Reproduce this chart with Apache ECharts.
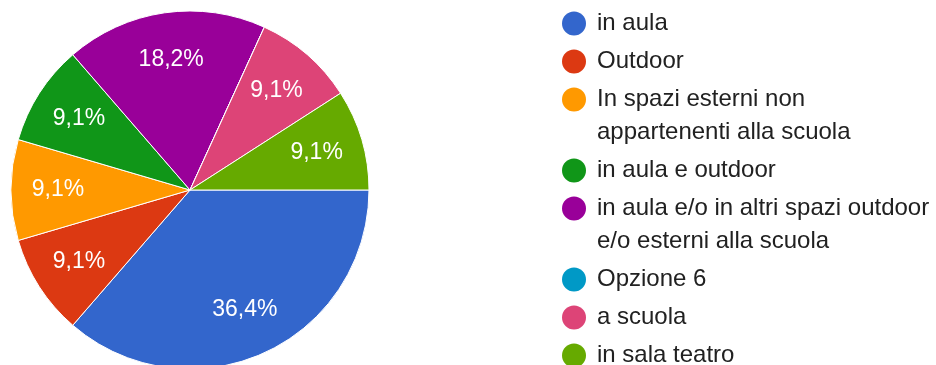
<!DOCTYPE html>
<html>
<head>
<meta charset="utf-8">
<script src="https://cdn.jsdelivr.net/npm/echarts@6/dist/echarts.min.js"></script>
<style>
  html, body { margin: 0; padding: 0; background: #fff; }
  #chart { width: 936px; height: 365px; }
</style>
</head>
<body>
<div id="chart"></div>
<script>
// Answer options and response counts
const categories = [
  'in aula',
  'Outdoor',
  'In spazi esterni non appartenenti alla scuola',
  'in aula e outdoor',
  'in aula e/o in altri spazi outdoor e/o esterni alla scuola',
  'Opzione 6',
  'a scuola',
  'in sala teatro'
];
// Legend text, wrapped onto lines
const legendLabels = [
  'in aula',
  'Outdoor',
  'In spazi esterni non\nappartenenti alla scuola',
  'in aula e outdoor',
  'in aula e/o in altri spazi outdoor\ne/o esterni alla scuola',
  'Opzione 6',
  'a scuola',
  'in sala teatro'
];
const counts = [4, 1, 1, 1, 2, 0, 1, 1];
const colors = ['#3366cc', '#dc3912', '#ff9900', '#109618', '#990099', '#0099c6', '#dd4477', '#66aa00'];

const total = counts.reduce((a, b) => a + b, 0);
const pieData = categories.map((name, i) => ({
  name: name,
  value: counts[i],
  itemStyle: { color: colors[i] }
}));

const fontFamily = '"Liberation Sans", Arial, sans-serif';
const center = [190, 190];
const outerR = 179;

function pctLabel(p) {
  if (!p.value) return '';
  return (p.value / total * 100).toFixed(1).replace('.', ',') + '%';
}

// Legend markers are drawn as rich-text dots so they sit on the first text line
const legendRich = {
  g: { width: 11 },
  ind: { width: 35 }
};
colors.forEach((c, i) => {
  legendRich['d' + i] = {
    width: 24,
    height: 24,
    borderRadius: 12,
    backgroundColor: c
  };
});

function legendFormatter(name) {
  const i = categories.indexOf(name);
  const lines = legendLabels[i].split('\n');
  return lines.map((line, k) =>
    (k === 0 ? '{d' + i + '| }{g| }' : '{ind| }') + line
  ).join('\n');
}

const chart = echarts.init(document.getElementById('chart'), null, { renderer: 'canvas' });
chart.setOption({
  animation: false,
  legend: {
    orient: 'vertical',
    left: 557,
    top: 7,
    height: 400,
    padding: 0,
    icon: 'none',
    itemWidth: 0,
    itemHeight: 0,
    itemGap: 5,
    selectedMode: false,
    data: categories,
    formatter: legendFormatter,
    textStyle: {
      fontFamily: fontFamily,
      fontSize: 24,
      color: '#212121',
      lineHeight: 33,
      rich: legendRich
    }
  },
  series: [
    {
      // slices
      type: 'pie',
      center: center,
      radius: [0, outerR],
      startAngle: 0,
      clockwise: true,
      silent: true,
      data: pieData,
      label: { show: false },
      labelLine: { show: false },
      itemStyle: { borderColor: '#ffffff', borderWidth: 1 }
    },
    {
      // percentage labels, placed at ~0.72 of the radius
      type: 'pie',
      center: center,
      radius: [79, outerR],
      startAngle: 0,
      clockwise: true,
      silent: true,
      legendHoverLink: false,
      data: categories.map((name, i) => ({ name: name, value: counts[i] })),
      itemStyle: { color: 'rgba(0,0,0,0)', borderWidth: 0 },
      label: {
        show: true,
        position: 'inside',
        formatter: pctLabel,
        color: '#ffffff',
        fontFamily: fontFamily,
        fontSize: 23
      },
      labelLine: { show: false }
    }
  ]
});
</script>
</body>
</html>
